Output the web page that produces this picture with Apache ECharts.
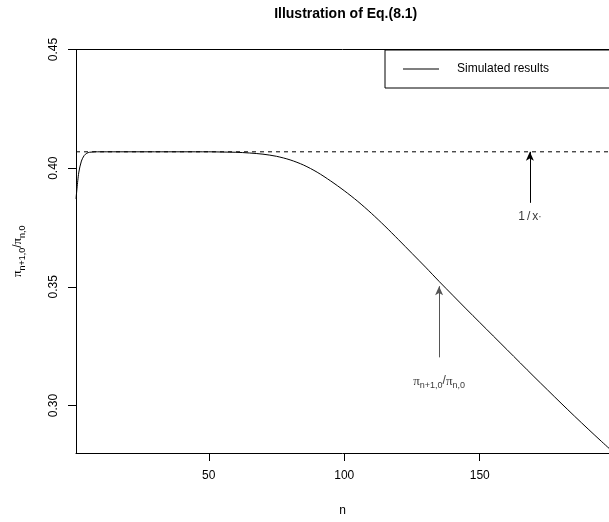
<!DOCTYPE html>
<html>
<head>
<meta charset="utf-8">
<script src="https://cdn.jsdelivr.net/npm/echarts@6/dist/echarts.min.js"></script>
<style>html,body{margin:0;padding:0;background:#fff}#c{width:609px;height:522px}</style>
</head>
<body>
<div id="c"></div>
<script>
// ---- data ----
const nValues = [1,2,3,4,5,6,7,8,10,20,30,40,50,55,60,65,70,75,80,85,90,95,100,105,110,115,120,125,130,135,140,145,150,155,160,165,170,175,180,185,190,195,200];
const ratioValues = [0.3870,0.3980,0.4030,0.4053,0.4063,0.4067,0.4068,0.4069,0.4069,0.4069,0.4069,0.4069,0.4069,0.4068,0.4067,0.4064,0.4059,0.4050,0.4035,0.4013,0.3983,0.3946,0.3905,0.3860,0.3810,0.3756,0.3699,0.3641,0.3583,0.3523,0.3465,0.3407,0.3350,0.3293,0.3236,0.3179,0.3122,0.3066,0.3010,0.2955,0.2901,0.2848,0.2796];
const limitValue = 0.4069;           // 1/x* (dashed line)
const xTicks = [50, 100, 150];
const yTicks = [0.30, 0.35, 0.40, 0.45];
const xRange = [1, 197.7];           // visible part of the plot (right side is cut off)
const yRange = [0.28, 0.45];
// annotation arrows: [x, yFrom, yTo]
const arrow1 = [168.5, 0.3854, 0.4069];
const arrow2 = [135, 0.3203, 0.3503];
// annotation labels: [x, y]
const label1Pos = [168.5, 0.3796];
const label2Pos = [135, 0.3103];
const seriesName = 'Simulated results';

const FONT = '"Liberation Sans", Arial, Helvetica, sans-serif';
const PIFONT = '"Liberation Serif", "DejaVu Serif", serif';
const piRich = {
  p: {fontSize: 13, fontFamily: PIFONT, color: '#000', lineHeight: 18, verticalAlign: 'middle'},
  s: {fontSize: 9, fontFamily: FONT, color: '#000', lineHeight: 18, verticalAlign: 'bottom'},
  t: {fontSize: 12, fontFamily: FONT, color: '#000', lineHeight: 18, verticalAlign: 'middle'}
};
const piText = '{p|π}{s|n+1,0}{t|/}{p|π}{s|n,0}';

const chart = echarts.init(document.getElementById('c'), null, {renderer: 'canvas'});
chart.setOption({
  animation: false,
  backgroundColor: '#fff',
  textStyle: {fontFamily: FONT},
  title: {
    text: 'Illustration of Eq.(8.1)',
    left: 345.7, top: 7, textAlign: 'center', padding: 0,
    textStyle: {fontSize: 14, fontWeight: 'bold', color: '#000', fontFamily: FONT}
  },
  legend: {
    left: 385, top: 50,
    orient: 'horizontal',
    padding: [13, 90, 13, 18],
    borderColor: '#000', borderWidth: 1, borderRadius: 0,
    itemWidth: 36, itemHeight: 1,
    icon: 'rect',
    itemStyle: {color: '#000'},
    textStyle: {fontSize: 12, color: '#000', fontFamily: FONT, padding: [0,0,0,13]},
    data: [{name: seriesName}]
  },
  grid: {
    left: 76, top: 49.5, right: 0, bottom: 68,
    show: false, containLabel: false
  },
  xAxis: [{
    type: 'value', min: xRange[0], max: xRange[1],
    name: 'n', nameLocation: 'middle', nameGap: 52,
    nameTextStyle: {fontSize: 12, color: '#000', fontFamily: FONT},
    axisLine: {show: true, onZero: false, lineStyle: {color: '#000', width: 1}},
    splitLine: {show: false},
    axisTick: {show: true, inside: false, length: 8, lineStyle: {color: '#000'}, customValues: xTicks},
    axisLabel: {fontSize: 12, color: '#000', margin: 17, customValues: xTicks, fontFamily: FONT}
  }, {
    type: 'value', position: 'top', min: xRange[0], max: xRange[1],
    axisLine: {show: true, onZero: false, lineStyle: {color: '#000', width: 1}},
    axisTick: {show: false}, axisLabel: {show: false}, splitLine: {show: false}
  }],
  yAxis: {
    type: 'value', min: yRange[0], max: yRange[1],
    name: piText, nameLocation: 'middle', nameGap: 49, nameRotate: 90,
    nameTextStyle: {rich: piRich},
    axisLine: {show: true, onZero: false, lineStyle: {color: '#000', width: 1}},
    splitLine: {show: false},
    axisTick: {show: true, inside: false, length: 8, lineStyle: {color: '#000'}, customValues: yTicks},
    axisLabel: {fontSize: 12, color: '#000', margin: 16, rotate: 90, customValues: yTicks,
      fontFamily: FONT, formatter: v => v.toFixed(2)}
  },
  series: [
    {
      name: seriesName, type: 'line', symbol: 'none', showSymbol: false,
      smooth: 0.3,
      data: nValues.map((n, i) => [n, ratioValues[i]]),
      lineStyle: {color: '#000', width: 1},
      itemStyle: {color: '#000'},
      clip: true
    },
    {
      name: 'limit', type: 'line', symbol: 'none', showSymbol: false, silent: true,
      data: [[xRange[0], limitValue], [xRange[1], limitValue]],
      lineStyle: {color: '#000', width: 1, type: [4, 4]},
      markLine: {
        silent: true, animation: false,
        symbol: ['none', 'arrow'], symbolSize: [6, 9],
        label: {show: false},
        data: [
          [{coord: [arrow1[0], arrow1[1]], lineStyle: {color: '#000', width: 1, type: 'solid'}},
           {coord: [arrow1[0], arrow1[2]]}],
          [{coord: [arrow2[0], arrow2[1]], lineStyle: {color: '#555', width: 1, type: 'solid'}},
           {coord: [arrow2[0], arrow2[2]]}]
        ]
      }
    },
    {
      name: 'labels', type: 'scatter', symbolSize: 0, silent: true,
      data: [
        {value: label1Pos, label: {show: true, position: 'inside', formatter: '{t|1}{s|/}{t|x}{d|·}',
          rich: {t: {fontSize: 12, color: '#000', fontFamily: FONT},
                 s: {fontSize: 12, color: '#000', fontFamily: FONT, padding: [0, 2, 0, 2]},
                 d: {fontSize: 10, color: '#000', fontFamily: FONT, verticalAlign: 'bottom'}}}},
        {value: label2Pos, label: {show: true, position: 'inside', formatter: piText, rich: piRich}}
      ]
    }
  ]
});
</script>
</body>
</html>
